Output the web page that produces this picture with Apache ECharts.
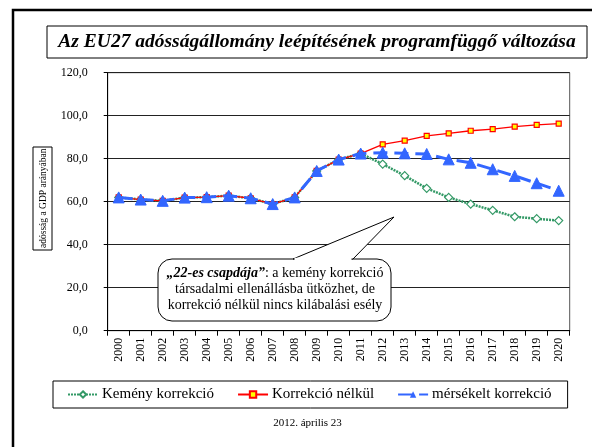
<!DOCTYPE html>
<html>
<head>
<meta charset="utf-8">
<script src="https://cdn.jsdelivr.net/npm/echarts@6/dist/echarts.min.js"></script>
<style>
html,body{margin:0;padding:0;background:#fff;}
#chart{width:592px;height:447px;}
</style>
</head>
<body>
<div id="chart"></div>
<script>
var categories = ['2000','2001','2002','2003','2004','2005','2006','2007','2008','2009','2010','2011','2012','2013','2014','2015','2016','2017','2018','2019','2020'];
var kemenyKorrekcio = [62.0,61.0,60.4,61.9,62.1,62.8,61.6,58.9,62.0,74.3,79.6,82.4,77.5,72.1,66.2,62.0,58.9,56.0,53.0,52.1,51.2];
var korrekcioNelkul = [62.0,61.0,60.4,61.9,62.1,62.8,61.6,58.9,62.0,74.3,79.6,82.4,86.7,88.4,90.6,91.8,93.0,93.8,94.9,95.7,96.3];
var mersekeltKorrekcio = [62.0,61.0,60.4,61.9,62.1,62.8,61.6,58.9,62.0,74.3,79.6,82.4,82.8,82.5,82.2,79.7,78.1,75.1,72.0,68.6,65.1];
var seriesNames = ['Kemény korrekció','Korrekció nélkül','mérsékelt korrekció'];
var yTicks = {min:0, max:120, interval:20};
var titleText = 'Az EU27 adósságállomány leépítésének programfüggő változása';
var yAxisName = 'adósság a GDP arányában';
var dateText = '2012. április 23';
var calloutBold = '„22-es csapdája”';
var calloutLines = [': a kemény korrekció','társadalmi ellenállásba ütközhet, de','korrekció nélkül nincs kilábalási esély'];

var FONT = '"Liberation Serif", "Times New Roman", serif';
var chart = echarts.init(document.getElementById('chart'), null, {renderer:'canvas'});

var option = {
  animation:false,
  backgroundColor:'#fff',
  textStyle:{fontFamily:FONT, color:'#000'},
  grid:{left:107.7, right:22.3, top:72.7, bottom:116.3, show:true, borderColor:'#555', borderWidth:1, containLabel:false},
  legend:{
    left:53, top:381,
    padding:[6,16,6,14],
    borderColor:'#000', borderWidth:1,
    itemGap:23, itemWidth:30, itemHeight:8,
    textStyle:{fontFamily:FONT, fontSize:15, color:'#000', padding:[0,0,0,-1]},
    data:seriesNames
  },
  xAxis:{
    type:'category', data:categories, boundaryGap:true,
    axisLine:{lineStyle:{color:'#000', width:1}},
    axisTick:{show:true, interval:0, alignWithLabel:false, length:5, lineStyle:{color:'#000'}},
    axisLabel:{interval:0, rotate:90, fontFamily:FONT, fontSize:12, color:'#000', margin:7},
    splitLine:{show:false}
  },
  yAxis:{
    type:'value', min:yTicks.min, max:yTicks.max, interval:yTicks.interval,
    axisLine:{show:true, lineStyle:{color:'#000', width:1}},
    axisTick:{show:true, length:4, lineStyle:{color:'#000'}},
    axisLabel:{fontFamily:FONT, fontSize:12, color:'#000', margin:20,
      formatter:function(v){return v.toFixed(1).replace('.', ',');}},
    splitLine:{show:true, lineStyle:{color:'#222', width:1}}
  },
  series:[
    {name:seriesNames[0], type:'line', data:kemenyKorrekcio,
     symbol:'diamond', symbolSize:8,
     itemStyle:{color:'#fff', borderColor:'#339966', borderWidth:1.2},
     lineStyle:{color:'#339966', width:2.5, type:[2,1]}, z:2},
    {name:seriesNames[1], type:'line', data:korrekcioNelkul,
     symbol:'rect', symbolSize:5,
     itemStyle:{color:'#FFFF00', borderColor:'#FF0000', borderWidth:1.2},
     lineStyle:{color:'#FF0000', width:1.3}, z:3},
    {name:seriesNames[2], type:'line', data:mersekeltKorrekcio,
     symbol:'triangle', symbolSize:11,
     itemStyle:{color:'#3366FF', borderColor:'#3366FF'},
     lineStyle:{color:'#3366FF', width:3, type:[14,7]}, z:4}
  ],
  graphic:[
    {type:'rect', shape:{x:13, y:10, width:700, height:600}, style:{fill:null, stroke:'#000', lineWidth:2.5}, silent:true},
    {type:'rect', shape:{x:47, y:26, width:540, height:32}, style:{fill:'#fff', stroke:'#000', lineWidth:1}, silent:true},
    {type:'text', x:317, y:42, style:{text:titleText, font:'italic bold 19.5px '+FONT, fill:'#000', align:'center', verticalAlign:'middle'}, silent:true},
    {type:'rect', shape:{x:33, y:147, width:19, height:103}, style:{fill:'#fff', stroke:'#000', lineWidth:1}, silent:true},
    {type:'text', x:43, y:248, rotation:Math.PI/2,
     style:{text:yAxisName, font:'9.5px '+FONT, fill:'#000', align:'left', verticalAlign:'middle', width:101, overflow:'truncate', ellipsis:''}, silent:true},
    {type:'rect', z:100, shape:{x:158, y:259, width:233, height:62, r:14}, style:{fill:'#fff', stroke:'#000', lineWidth:1}, silent:true},
    {type:'polygon', z:100, shape:{points:[[293,259],[394,217],[353,259]]}, style:{fill:'#fff', stroke:'#000', lineWidth:1}, silent:true},
    {type:'line', z:100, shape:{x1:294.5, y1:259, x2:351.5, y2:259}, style:{stroke:'#fff', lineWidth:2.5}, silent:true},
    {type:'text', x:275, y:289, z:101,
     style:{text:'{b|'+calloutBold+'}'+calloutLines[0]+'\n'+calloutLines[1]+'\n'+calloutLines[2],
       font:'14px '+FONT, fill:'#000', align:'center', verticalAlign:'middle', lineHeight:16,
       rich:{b:{fontFamily:FONT, fontSize:14, fontWeight:'bold', fontStyle:'italic', lineHeight:16}}}, silent:true},
    {type:'text', x:307.5, y:423, style:{text:dateText, font:'11px '+FONT, fill:'#000', align:'center', verticalAlign:'middle'}, silent:true}
  ]
};
chart.setOption(option);
</script>
</body>
</html>
